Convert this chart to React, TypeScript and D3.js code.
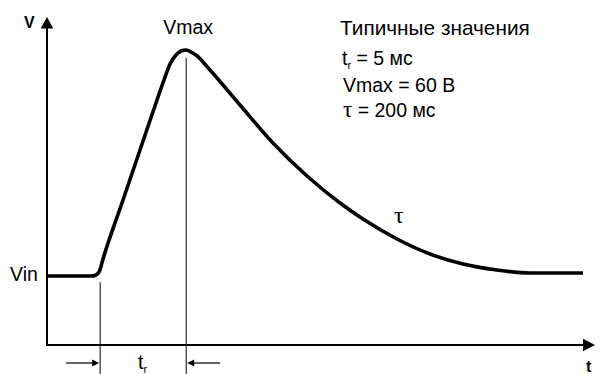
import React from 'react'
import * as d3 from 'd3'

// waveform: time in arbitrary units, voltage in volts
const timeUnits = [0, 8.03, 8.94, 9.58, 10.22, 13.87, 16.97, 20.07, 21.35, 22.45, 23.54, 24.45, 25.36, 26.28, 27.19, 29.74, 35.22, 41.24, 47.45, 53.47, 57.66, 63.87, 69.89, 75.91, 82.12, 88.14, 97.81]
const voltage = [14.03, 14.03, 14.24, 15.05, 17.49, 29.49, 39.66, 49.83, 53.9, 57.15, 58.98, 59.8, 60.0, 59.59, 58.98, 55.93, 48.81, 41.08, 34.37, 28.88, 25.63, 21.56, 18.51, 16.47, 15.25, 14.64, 14.64]

const vin = 14
const vmax = 60
const riseStart = 9.7
const peakTime = 25.4
const tauAt = 64.2

const legendLines = ['Типичные значения', 't_r = 5 мс', 'Vmax = 60 В', 'τ = 200 мс']

const W = 600
const H = 374
const font = '"Liberation Sans", Arial, sans-serif'
const serif = '"Liberation Serif", "Times New Roman", serif'

const App = () => {
  const x = d3.scaleLinear().domain([0, 100]).range([47, 595])
  const y = d3.scaleLinear().domain([0, vmax]).range([345, 50])

  const pts: [number, number][] = timeUnits.map((t, i) => [t, voltage[i]])
  const line = d3.line<[number, number]>()
    .x((d) => x(d[0]))
    .y((d) => y(d[1]))
    .curve(d3.curveMonotoneX)

  const x0 = x(0)
  const x1 = x(100)
  const y0 = y(0)
  const yTop = 17
  const xr = x(riseStart)
  const xp = x(peakTime)
  const arrowY = 363
  const arrowLen = 34

  const renderLegend = (s: string, i: number) => {
    const baselines = [35, 65, 92, 117]
    if (s.startsWith('t_r')) {
      return (
        <text key={i} x={342} y={baselines[i]} fontSize={19.5}>
          t<tspan fontSize={11} dy={4}>r</tspan><tspan dy={-4}>{s.slice(3)}</tspan>
        </text>
      )
    }
    if (s.startsWith('τ')) {
      return (
        <text key={i} x={343} y={baselines[i]} fontSize={19.5}>
          <tspan fontFamily={serif} fontSize={23}>τ</tspan>{s.slice(1)}
        </text>
      )
    }
    return <text key={i} x={i === 0 ? 340 : 343} y={baselines[i]} fontSize={i === 0 ? 20.8 : 19.5}>{s}</text>
  }

  return (
    <svg width={W} height={H} style={{ position: 'absolute', left: 0, top: 0, background: '#fff' }} fontFamily={font}>
      {/* axes */}
      <line x1={x0} y1={y0} x2={x0} y2={yTop + 8} stroke="#000" strokeWidth={2} />
      <path d={`M${x0},${yTop} L${x0 - 6.3},${yTop + 11.5} L${x0 + 6.3},${yTop + 11.5} Z`} fill="#000" />
      <line x1={x0 - 1} y1={y0} x2={x1 - 8} y2={y0} stroke="#000" strokeWidth={2} />
      <path d={`M${x1},${y0} L${x1 - 12},${y0 - 6.3} L${x1 - 12},${y0 + 6.3} Z`} fill="#000" />
      <text x={24} y={28} fontSize={16} fontWeight="bold">V</text>
      <text x={586} y={372} fontSize={16} fontWeight="bold">t</text>

      {/* markers */}
      <line x1={xr} y1={y(vin) + 6} x2={xr} y2={H} stroke="#000" strokeWidth={1} />
      <line x1={xp} y1={y(vmax) + 8} x2={xp} y2={H} stroke="#000" strokeWidth={1} />
      <line x1={xr - arrowLen} y1={arrowY} x2={xr - 6} y2={arrowY} stroke="#000" strokeWidth={1.2} />
      <path d={`M${xr - 1},${arrowY} L${xr - 8},${arrowY - 3.5} L${xr - 8},${arrowY + 3.5} Z`} fill="#000" />
      <line x1={xp + arrowLen} y1={arrowY} x2={xp + 6} y2={arrowY} stroke="#000" strokeWidth={1.2} />
      <path d={`M${xp + 1},${arrowY} L${xp + 8},${arrowY - 3.5} L${xp + 8},${arrowY + 3.5} Z`} fill="#000" />
      <text x={138} y={369} fontSize={19.5}>t<tspan fontSize={11} dy={4}>r</tspan></text>

      {/* waveform */}
      <path d={line(pts) ?? ''} fill="none" stroke="#000" strokeWidth={3.6} strokeLinejoin="round" strokeLinecap="butt" />

      {/* labels */}
      <text x={xp + 2} y={34} fontSize={19.5} textAnchor="middle">Vmax</text>
      <text x={10} y={281} fontSize={19.5}>Vin</text>
      <text x={x(tauAt)} y={223} fontSize={24} fontFamily={serif} textAnchor="middle">τ</text>
      {legendLines.map(renderLegend)}
    </svg>
  )
}

export default App
